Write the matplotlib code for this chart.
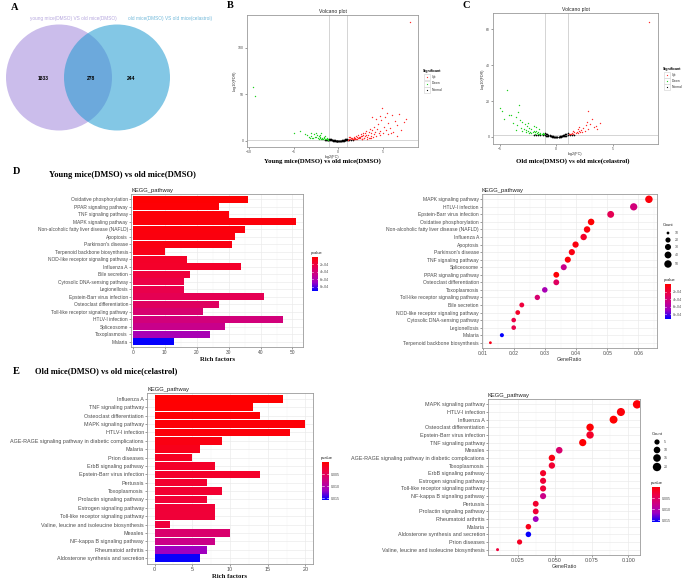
import numpy as np
import matplotlib
matplotlib.use("Agg")
import matplotlib.pyplot as plt
from matplotlib.colors import LinearSegmentedColormap, Normalize
from matplotlib.patches import Circle, Rectangle

# ---------------- data ----------------
venn_names = ["young mice(DMSO) VS old mice(DMSO)", "old mice(DMSO) VS old mice(celastrol)"]
venn_only_left = 1833
venn_both = 278
venn_only_right = 244

b_up = [(1.1, 1.5), (1.2, 2.2), (1.3, 1.8), (1.4, 2.8), (1.5, 2.0), (1.5, 3.5), (1.6, 2.5), (1.7, 3.0),
        (1.8, 1.9), (1.8, 4.2), (1.9, 3.3), (2.0, 2.4), (2.0, 5.0), (2.1, 3.8), (2.2, 2.9), (2.2, 6.0),
        (2.3, 4.4), (2.4, 3.1), (2.5, 5.5), (2.5, 7.5), (2.6, 2.6), (2.7, 4.8), (2.8, 6.5), (2.8, 9.0),
        (2.9, 3.5), (3.0, 5.2), (3.0, 8.0), (3.1, 11.0), (3.2, 4.0), (3.3, 6.8), (3.4, 9.5), (3.5, 3.2),
        (3.5, 13.0), (3.6, 5.8), (3.7, 8.2), (3.8, 11.5), (3.9, 4.6), (4.0, 15.0), (4.0, 7.0), (4.1, 10.0),
        (4.2, 5.0), (4.3, 13.0), (4.4, 18.0), (4.5, 8.5), (4.6, 6.0), (4.7, 11.0), (4.8, 22.0), (4.9, 35.0),
        (5.0, 9.0), (5.1, 15.0), (5.2, 26.0), (5.3, 12.0), (5.5, 19.0), (5.6, 7.5), (5.8, 14.0), (6.0, 28.0),
        (6.1, 10.0), (6.3, 21.0), (6.5, 17.0), (6.8, 29.0), (7.0, 12.0), (7.3, 20.0), (7.6, 24.0), (3.8, 26.0),
        (4.2, 23.0), (5.4, 30.0), (4.6, 27.0), (6.6, 5.0), (5.9, 9.0), (1.3, 4.0), (1.6, 1.7), (1.9, 2.6),
        (2.3, 3.6), (2.6, 1.9), (2.9, 2.8), (3.2, 2.2), (3.6, 3.0), (1.2, 3.9), (1.7, 2.1), (2.1, 1.6),
        (2.4, 4.6), (2.7, 2.5), (3.1, 5.9), (3.4, 3.4), (8.0, 127.0)]
b_down = [(-1.1, 1.5), (-1.2, 2.0), (-1.3, 1.6), (-1.4, 2.5), (-1.5, 1.9), (-1.6, 3.0), (-1.7, 2.2),
          (-1.8, 3.5), (-1.9, 2.6), (-2.0, 4.0), (-2.1, 2.8), (-2.2, 5.0), (-2.3, 3.2), (-2.4, 6.0),
          (-2.5, 3.8), (-2.6, 4.5), (-2.7, 7.0), (-2.8, 3.5), (-3.0, 5.5), (-3.1, 8.0), (-3.3, 4.5),
          (-3.5, 6.0), (-3.7, 7.5), (-1.5, 5.0), (-2.0, 6.5), (-2.5, 9.0), (-1.9, 8.5), (-1.3, 3.2),
          (-1.6, 4.2), (-2.2, 2.4), (-2.9, 2.9), (-3.2, 3.6), (-1.2, 1.4), (-1.8, 1.8), (-4.3, 10.7),
          (-5.0, 8.6), (-9.5, 58.0), (-9.3, 48.0)]
b_normal = [(-1.5, 1.0), (-1.4, 1.2), (-1.3, 1.1), (-1.2, 1.25), (-1.1, 1.2), (-1.0, 1.15), (-1.0, 2.4),
            (-0.9, 0.9), (-0.9, 2.0), (-0.8, 0.7), (-0.8, 1.7), (-0.7, 0.55), (-0.7, 1.4), (-0.6, 0.4),
            (-0.6, 1.1), (-0.5, 0.3), (-0.5, 0.8), (-0.4, 0.2), (-0.4, 0.6), (-0.3, 0.1), (-0.3, 0.4),
            (-0.2, 0.05), (-0.2, 0.2), (-0.1, 0.02), (-0.1, 0.1), (0.0, 0.0), (0.0, 0.05), (0.1, 0.02),
            (0.1, 0.1), (0.2, 0.05), (0.2, 0.25), (0.3, 0.1), (0.3, 0.4), (0.4, 0.2), (0.4, 0.6), (0.5, 0.3),
            (0.5, 0.9), (0.6, 0.4), (0.6, 1.2), (0.7, 0.55), (0.7, 1.5), (0.8, 0.7), (0.8, 1.8), (0.9, 0.9),
            (0.9, 2.2), (1.0, 1.1), (1.0, 2.6), (1.1, 1.2), (1.2, 1.25), (1.4, 1.2), (1.6, 1.1)]

c_up = [(1.1, 1.5), (1.2, 1.9), (1.3, 1.6), (1.4, 2.2), (1.5, 1.8), (1.6, 2.6), (1.7, 2.0), (1.8, 3.0),
        (1.9, 2.3), (2.0, 3.5), (2.0, 5.7), (2.1, 2.6), (2.2, 4.0), (2.3, 3.0), (2.4, 5.0), (2.5, 3.4),
        (2.6, 6.5), (2.8, 14.4), (2.8, 4.2), (3.0, 7.0), (3.2, 10.0), (3.3, 5.5), (3.5, 6.2), (3.9, 8.0),
        (3.6, 4.5), (1.5, 3.3), (1.9, 4.4), (2.7, 8.5), (8.2, 64.0)]
c_down = [(-1.1, 1.5), (-1.2, 2.0), (-1.3, 1.7), (-1.4, 2.4), (-1.5, 1.9), (-1.6, 2.8), (-1.7, 2.2),
          (-1.8, 3.2), (-1.9, 2.5), (-2.0, 3.6), (-2.1, 2.7), (-2.2, 4.2), (-2.3, 3.0), (-2.4, 5.0),
          (-2.5, 3.4), (-2.6, 6.0), (-2.7, 3.9), (-2.8, 7.0), (-2.9, 4.5), (-3.0, 8.5), (-3.1, 5.2),
          (-3.2, 9.5), (-3.3, 18.0), (-3.4, 14.0), (-3.5, 6.5), (-3.6, 11.0), (-3.8, 8.0), (-4.0, 12.5),
          (-4.2, 12.0), (-4.4, 26.0), (-4.6, 10.0), (-5.0, 16.0), (-4.8, 14.5), (-2.0, 6.2), (-2.5, 8.0),
          (-1.5, 4.3), (-1.8, 5.5), (-2.2, 2.1), (-1.4, 1.6), (-2.7, 2.6), (-3.0, 3.1), (-1.2, 1.4),
          (-1.6, 1.7), (-1.9, 1.9), (-2.4, 2.4), (-3.6, 4.0)]
c_normal = [(-2.0, 1.1), (-1.8, 1.2), (-1.6, 1.15), (-1.4, 1.2), (-1.2, 1.1), (-1.0, 1.0), (-1.0, 2.2),
            (-0.9, 0.8), (-0.9, 1.9), (-0.8, 0.65), (-0.8, 1.6), (-0.7, 0.5), (-0.7, 1.3), (-0.6, 0.4),
            (-0.6, 1.0), (-0.5, 0.3), (-0.5, 0.8), (-0.4, 0.2), (-0.4, 0.55), (-0.3, 0.1), (-0.3, 0.35),
            (-0.2, 0.05), (-0.2, 0.2), (-0.1, 0.02), (-0.1, 0.08), (0.0, 0.0), (0.0, 0.04), (0.1, 0.02),
            (0.1, 0.08), (0.2, 0.05), (0.2, 0.2), (0.3, 0.1), (0.3, 0.35), (0.4, 0.2), (0.4, 0.55), (0.5, 0.3),
            (0.5, 0.8), (0.6, 0.4), (0.6, 1.0), (0.7, 0.5), (0.7, 1.3), (0.8, 0.65), (0.8, 1.6), (0.9, 0.8),
            (0.9, 1.9), (1.0, 1.0), (1.0, 2.2), (1.2, 1.1), (1.4, 1.2), (1.6, 1.15)]

d_paths = ["Oxidative phosphorylation", "PPAR signaling pathway", "TNF signaling pathway",
           "MAPK signaling pathway", "Non-alcoholic fatty liver disease (NAFLD)", "Apoptosis",
           "Parkinson's disease", "Terpenoid backbone biosynthesis", "NOD-like receptor signaling pathway",
           "Influenza A", "Bile secretion", "Cytosolic DNA-sensing pathway", "Legionellosis",
           "Epstein-Barr virus infection", "Osteoclast differentiation", "Toll-like receptor signaling pathway",
           "HTLV-I infection", "Spliceosome", "Toxoplasmosis", "Malaria"]
d_counts = [36, 27, 30, 51, 35, 32, 31, 10, 17, 34, 18, 16, 16, 41, 27, 22, 47, 29, 24, 13]
d_pvals = [1.0e-5, 2.0e-5, 3.0e-5, 3.5e-5, 4.0e-5, 5.0e-5, 6.0e-5, 8.0e-5, 1.3e-4, 1.4e-4,
           2.0e-4, 2.3e-4, 2.5e-4, 2.8e-4, 3.2e-4, 3.8e-4, 4.2e-4, 4.8e-4, 6.3e-4, 9.1e-4]
d_dot_paths = ["MAPK signaling pathway", "HTLV-I infection", "Epstein-Barr virus infection",
               "Oxidative phosphorylation", "Non-alcoholic fatty liver disease (NAFLD)", "Influenza A",
               "Apoptosis", "Parkinson's disease", "TNF signaling pathway", "Spliceosome",
               "PPAR signaling pathway", "Osteoclast differentiation", "Toxoplasmosis",
               "Toll-like receptor signaling pathway", "Bile secretion", "NOD-like receptor signaling pathway",
               "Cytosolic DNA-sensing pathway", "Legionellosis", "Malaria", "Terpenoid backbone biosynthesis"]
d_dot_ratio = [0.0634, 0.0585, 0.0511, 0.0448, 0.0435, 0.0424, 0.0398, 0.0386, 0.0373, 0.0360,
               0.0336, 0.0336, 0.0299, 0.0275, 0.0225, 0.0212, 0.0199, 0.0199, 0.0161, 0.0124]

e_paths = ["Influenza A", "TNF signaling pathway", "Osteoclast differentiation", "MAPK signaling pathway",
           "HTLV-I infection", "AGE-RAGE signaling pathway in diabetic complications", "Malaria",
           "Prion diseases", "ErbB signaling pathway", "Epstein-Barr virus infection", "Pertussis",
           "Toxoplasmosis", "Prolactin signaling pathway", "Estrogen signaling pathway",
           "Toll-like receptor signaling pathway", "Valine, leucine and isoleucine biosynthesis", "Measles",
           "NF-kappa B signaling pathway", "Rheumatoid arthritis", "Aldosterone synthesis and secretion"]
e_counts = [17, 13, 14, 20, 18, 9, 6, 5, 8, 14, 7, 9, 7, 8, 8, 2, 10, 8, 7, 6]
e_pvals = [1.0e-4, 2.0e-4, 3.0e-4, 4.0e-4, 6.0e-4, 1.0e-3, 1.5e-3, 2.0e-3, 2.3e-3, 2.4e-3,
           2.6e-3, 2.8e-3, 3.0e-3, 3.1e-3, 3.2e-3, 3.4e-3, 6.3e-3, 8.0e-3, 1.15e-2, 1.56e-2]
e_dot_paths = ["MAPK signaling pathway", "HTLV-I infection", "Influenza A", "Osteoclast differentiation",
               "Epstein-Barr virus infection", "TNF signaling pathway", "Measles",
               "AGE-RAGE signaling pathway in diabetic complications", "Toxoplasmosis",
               "ErbB signaling pathway", "Estrogen signaling pathway", "Toll-like receptor signaling pathway",
               "NF-kappa B signaling pathway", "Pertussis", "Prolactin signaling pathway",
               "Rheumatoid arthritis", "Malaria", "Aldosterone synthesis and secretion", "Prion diseases",
               "Valine, leucine and isoleucine biosynthesis"]
e_dot_ratio = [0.106, 0.095, 0.090, 0.074, 0.074, 0.069, 0.053, 0.048, 0.048, 0.042,
               0.042, 0.042, 0.042, 0.037, 0.037, 0.037, 0.032, 0.032, 0.026, 0.011]

d_pticks = [2e-4, 4e-4, 6e-4, 8e-4]
d_plabels = ["2e-04", "4e-04", "6e-04", "8e-04"]
e_pticks = [0.005, 0.010, 0.015]
e_plabels = ["0.005", "0.010", "0.015"]
d_count_breaks = [10, 20, 30, 40, 50]
e_count_breaks = [5, 10, 15, 20]

# ---------------- figure ----------------
SANS = ['Liberation Sans', 'DejaVu Sans']
SERIF = ['Liberation Serif', 'DejaVu Serif']
plt.rcParams['font.family'] = SANS

W, H = 685, 579
fig = plt.figure(figsize=(W / 100, H / 100), dpi=100)
fig.patch.set_facecolor('white')

ov = fig.add_axes([0, 0, 1, 1], zorder=10)
ov.set_xlim(0, W)
ov.set_ylim(H, 0)
ov.axis('off')
ov.patch.set_alpha(0)

cmap = LinearSegmentedColormap.from_list('pv', ['#FF0000', '#EC0046', '#CC0086', '#9C00C4', '#0000FF'])


def px_axes(x0, y0, x1, y1):
    return fig.add_axes([x0 / W, 1 - y1 / H, (x1 - x0) / W, (y1 - y0) / H])


def gg_style(ax, fs):
    ax.set_facecolor('white')
    for s in ax.spines.values():
        s.set_color('#9a9a9a')
        s.set_linewidth(0.6)
    ax.tick_params(which='major', length=1.4, width=0.4, color='#4d4d4d', labelsize=fs,
                   labelcolor='#4d4d4d', pad=0.8)
    ax.tick_params(which='minor', length=0)
    ax.set_axisbelow(True)


def size_of(vals, cmin, cmax, dmin, dmax):
    v = np.asarray(vals, dtype=float)
    d = dmin + (dmax - dmin) * np.sqrt(np.clip((v - cmin) / (cmax - cmin), 0, None))
    return (d * 0.72) ** 2


def volcano(rect, up, down, normal, xlim, ylim, xticks, yticks):
    ax = px_axes(*rect)
    gg_style(ax, 2.5)
    for pts, col, s in ((normal, 'black', 1.5), (down, '#1fd01f', 1.0), (up, '#ff2a2a', 1.0)):
        xs, ys = zip(*pts)
        ax.scatter(xs, ys, s=s, c=col, linewidths=0, zorder=3)
    for v in (-1, 1):
        ax.axvline(v, color='#c4c4c4', lw=0.5, zorder=1)
    ax.axhline(-np.log10(0.05), color='#c4c4c4', lw=0.5, zorder=1)
    ax.set_xlim(xlim)
    ax.set_ylim(ylim)
    ax.set_xticks(xticks)
    ax.set_yticks(yticks)
    ax.set_title('Volcano plot', fontsize=3.6, pad=1.2, color='#222222')
    ax.set_xlabel('log2(FC)', fontsize=2.7, labelpad=0.8, color='#333333')
    ax.set_ylabel('-log10(FDR)', fontsize=2.7, labelpad=0.8, color='#333333')
    return ax


def volcano_legend(x, y, dy):
    ov.text(x - 1, y, 'Significant', fontsize=2.6, fontweight='bold', va='center', ha='left')
    for i, (lab, col) in enumerate((('Up', '#ff2a2a'), ('Down', '#1fd01f'), ('Normal', 'black'))):
        yy = y + 6 + i * dy
        ov.add_patch(Rectangle((x, yy - 3), 6, 6, facecolor='white', edgecolor='#cfcfcf', lw=0.4))
        ov.scatter([x + 3], [yy], s=0.8, c=col, linewidths=0)
        ov.text(x + 8, yy, lab, fontsize=2.4, va='center', ha='left', color='#333333')


def bar_panel(rect, paths, counts, pvals, vmax, xlim, xticks, xminor, fs):
    ax = px_axes(*rect)
    gg_style(ax, fs)
    n = len(paths)
    ypos = np.arange(n)[::-1]
    ax.barh(ypos, counts, height=0.9, color=cmap(Normalize(0, vmax)(pvals)), zorder=2)
    ax.set_yticks(ypos, paths)
    ax.set_ylim(-0.7, n - 0.3)
    ax.set_xlim(xlim)
    ax.set_xticks(xticks)
    ax.set_xticks(xminor, minor=True)
    ax.grid(which='major', color='#ebebeb', lw=0.5)
    ax.grid(which='minor', axis='x', color='#f3f3f3', lw=0.35)
    ax.set_title('KEGG_pathway', loc='left', fontsize=4.2, pad=1.5, color='#222222')
    ax.set_xlabel('Rich factors', fontfamily=SERIF, fontweight='bold', fontsize=4.9, labelpad=1.2,
                  color='#111111')
    return ax


def dot_panel(rect, paths, ratios, ref_paths, ref_counts, ref_pvals, vmax, dmin, dmax,
              xlim, xticks, xlabels, xminor, fs):
    ax = px_axes(*rect)
    gg_style(ax, fs)
    counts = [ref_counts[ref_paths.index(p)] for p in paths]
    pv = [ref_pvals[ref_paths.index(p)] for p in paths]
    n = len(paths)
    ypos = np.arange(n)[::-1]
    ax.scatter(ratios, ypos, s=size_of(counts, min(counts), max(counts), dmin, dmax), c=pv, cmap=cmap,
               vmin=0, vmax=vmax, linewidths=0, zorder=3)
    ax.set_yticks(ypos, paths)
    ax.set_ylim(-0.7, n - 0.3)
    ax.set_xlim(xlim)
    ax.set_xticks(xticks, xlabels)
    ax.set_xticks(xminor, minor=True)
    ax.grid(which='major', color='#ebebeb', lw=0.5)
    ax.grid(which='minor', axis='x', color='#f3f3f3', lw=0.35)
    ax.set_title('KEGG_pathway', loc='left', fontsize=4.2, pad=1.5, color='#222222')
    ax.set_xlabel('GeneRatio', fontsize=3.8, labelpad=1.0, color='#333333')
    return ax, min(counts), max(counts)


def colorbar_px(x0, y0, x1, y1, vmax, ticks, labels, fs):
    cax = px_axes(x0, y0, x1, y1)
    cax.imshow(np.linspace(0, 1, 256)[:, None], cmap=cmap, aspect='auto', extent=[0, 1, vmax, 0])
    cax.set_xlim(0, 1)
    cax.set_ylim(vmax, 0)
    cax.set_xticks([])
    cax.yaxis.tick_right()
    cax.set_yticks(ticks, labels)
    cax.tick_params(axis='y', length=0, labelsize=fs, labelcolor='#4d4d4d', pad=1.2)
    for t in ticks:
        cax.plot([0, 0.22], [t, t], color='white', lw=0.4)
        cax.plot([0.78, 1], [t, t], color='white', lw=0.4)
    for s in cax.spines.values():
        s.set_visible(False)
    ov.text(x0 - 1, y0 - 2, 'pvalue', fontsize=fs + 0.4, ha='left', va='bottom', color='#222222')


def count_legend(x, y, ys, breaks, cmin, cmax, dmin, dmax, fs):
    ov.text(x, y, 'Count', fontsize=fs + 0.4, ha='left', va='center', color='#222222')
    ov.scatter([x + 5] * len(ys), ys, s=size_of(breaks, cmin, cmax, dmin, dmax), c='black', linewidths=0)
    for yy, b in zip(ys, breaks):
        ov.text(x + 12, yy, str(b), fontsize=fs, va='center', ha='left', color='#4d4d4d')


# ---- A: Venn ----
ov.add_patch(Circle((59, 77.5), 53, facecolor='#cbbdeb', edgecolor='none', zorder=1))
ov.add_patch(Circle((117, 77.5), 53, facecolor='#1e99d0', alpha=0.55, edgecolor='none', zorder=2))
ov.text(30, 18.5, venn_names[0], fontsize=3.45, color='#b6a7de', va='center', ha='left')
ov.text(128, 18.5, venn_names[1], fontsize=3.45, color='#72b9da', va='center', ha='left')
ov.text(43, 78, str(venn_only_left), fontsize=3.6, fontweight='bold', ha='center', va='center', zorder=3)
ov.text(91, 78, str(venn_both), fontsize=3.6, fontweight='bold', ha='center', va='center', zorder=3)
ov.text(131, 78, str(venn_only_right), fontsize=3.6, fontweight='bold', ha='center', va='center', zorder=3)

# ---- B, C: volcano ----
volcano((247, 15, 418, 147), b_up, b_down, b_normal, (-10.2, 8.9), (-6.5, 135), [-10, -5, 0, 5], [0, 50, 100])
volcano_legend(424, 71, 6.5)
volcano((493, 13, 658, 144), c_up, c_down, c_normal, (-5.6, 9.0), (-3.9, 69), [-5, 0, 5], [0, 20, 40, 60])
volcano_legend(664, 69, 6.0)

# ---- D ----
d_vmax = 9.2e-4
bar_panel((131, 194, 303, 347), d_paths, d_counts, d_pvals, d_vmax, (-0.6, 53.3),
          [0, 10, 20, 30, 40, 50], [5, 15, 25, 35, 45], 3.5)
colorbar_px(312, 257, 318, 291, d_vmax, d_pticks, d_plabels, 2.5)
_, dcmin, dcmax = dot_panel((482, 194, 657, 348), d_dot_paths, d_dot_ratio, d_paths, d_counts, d_pvals,
                            d_vmax, 2.8, 7.5, (0.0097, 0.066), [0.01, 0.02, 0.03, 0.04, 0.05, 0.06],
                            ['0.01', '0.02', '0.03', '0.04', '0.05', '0.06'],
                            [0.015, 0.025, 0.035, 0.045, 0.055, 0.065], 3.6)
count_legend(663, 225, [233, 240, 247, 255, 264], d_count_breaks, dcmin, dcmax, 2.8, 7.5, 2.5)
colorbar_px(665, 284, 671, 319, d_vmax, d_pticks, d_plabels, 2.5)

# ---- E ----
e_vmax = 0.0158
bar_panel((147, 393, 313, 564), e_paths, e_counts, e_pvals, e_vmax, (-1, 21),
          [0, 5, 10, 15, 20], [2.5, 7.5, 12.5, 17.5], 3.9)
colorbar_px(322, 462, 329, 500, e_vmax, e_pticks, e_plabels, 2.6)
_, ecmin, ecmax = dot_panel((488, 399, 640, 555), e_dot_paths, e_dot_ratio, e_paths, e_counts, e_pvals,
                            e_vmax, 3.0, 8.4, (0.0045, 0.108), [0.025, 0.05, 0.075, 0.1],
                            ['0.025', '0.050', '0.075', '0.100'], [0.0125, 0.0375, 0.0625, 0.0875], 3.9)
count_legend(652, 434, [442, 450, 458, 467], e_count_breaks, ecmin, ecmax, 3.0, 8.4, 2.6)
colorbar_px(652, 487, 660, 522, e_vmax, e_pticks, e_plabels, 2.6)

# ---- panel letters and titles ----
for lab, x, y in (('A', 15, 7), ('B', 230, 6), ('C', 466, 6), ('D', 17, 171), ('E', 16, 371)):
    ov.text(x, y, lab, fontfamily=SERIF, fontweight='bold', fontsize=7.5, ha='center', va='center')
ov.text(49, 175, 'Young mice(DMSO) vs old mice(DMSO)', fontfamily=SERIF, fontweight='bold',
        fontsize=6.1, ha='left', va='center')
ov.text(35, 371, 'Old mice(DMSO) vs old mice(celastrol)', fontfamily=SERIF, fontweight='bold',
        fontsize=6.1, ha='left', va='center')
ov.text(322, 161, 'Young mice(DMSO) vs old mice(DMSO)', fontfamily=SERIF, fontweight='bold',
        fontsize=4.9, ha='center', va='center')
ov.text(573, 161, 'Old mice(DMSO) vs old mice(celastrol)', fontfamily=SERIF, fontweight='bold',
        fontsize=4.9, ha='center', va='center')

fig.savefig('out.png', dpi=100, facecolor='white')
